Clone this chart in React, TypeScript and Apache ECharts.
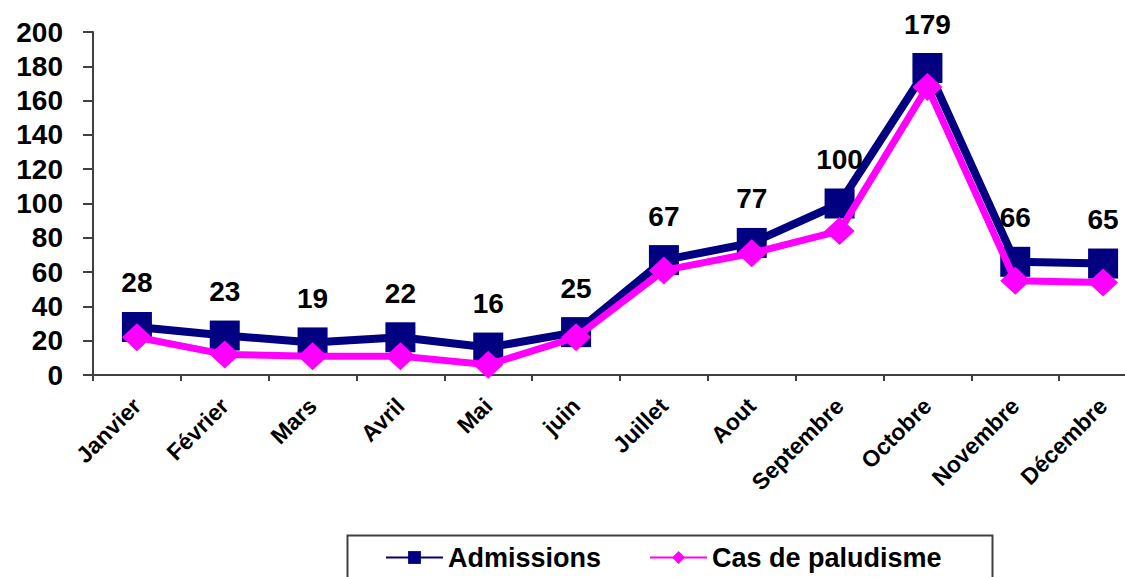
import React, { useEffect, useRef } from "react";
import * as echarts from "echarts";

// Monthly counts
const months = [
  "Janvier", "Février", "Mars", "Avril", "Mai", "juin",
  "Juillet", "Aout", "Septembre", "Octobre", "Novembre", "Décembre",
];
const admissions = [28, 23, 19, 22, 16, 25, 67, 77, 100, 179, 66, 65];
const casPaludisme = [22, 12, 11, 11, 6, 22, 61, 71, 84, 168, 55, 54];

const FONT = "'Liberation Sans', Arial, Helvetica, sans-serif";
const NAVY = "#000080";
const MAGENTA = "#FF00FF";
const AXIS = "#404040";

export default function App() {
  const ref = useRef<HTMLDivElement>(null);

  useEffect(() => {
    if (!ref.current) return;
    const chart = echarts.init(ref.current, null, { renderer: "svg" });
    chart.setOption({
      animation: false,
      backgroundColor: "#ffffff",
      textStyle: { fontFamily: FONT },
      grid: {
        left: 93,
        top: 32,
        bottom: 202,
        right: -22,
        containLabel: false,
        outerBoundsMode: "none",
      },
      xAxis: {
        type: "category",
        data: months,
        boundaryGap: true,
        axisLine: { show: true, lineStyle: { color: AXIS, width: 2 } },
        axisTick: { show: true, length: 6, lineStyle: { color: AXIS, width: 2 } },
        axisLabel: {
          interval: 0,
          rotate: 45,
          margin: 27,
          fontFamily: FONT,
          fontWeight: "bold",
          fontSize: 23,
          color: "#000000",
        },
        splitLine: { show: false },
      },
      yAxis: {
        type: "value",
        min: 0,
        max: 200,
        interval: 20,
        axisLine: { show: true, lineStyle: { color: AXIS, width: 2 } },
        axisTick: { show: true, length: 10, lineStyle: { color: AXIS, width: 2 } },
        axisLabel: {
          margin: 30,
          fontFamily: FONT,
          fontWeight: "bold",
          fontSize: 28,
          color: "#000000",
        },
        splitLine: { show: false },
      },
      legend: {
        left: 385,
        top: 544,
        padding: 0,
        itemWidth: 57,
        itemHeight: 16,
        itemGap: 48,
        textStyle: {
          fontFamily: FONT,
          fontWeight: "bold",
          fontSize: 27,
          color: "#000000",
        },
        data: ["Admissions", "Cas de paludisme"],
      },
      graphic: [
        {
          type: "rect",
          left: 345,
          top: 533,
          shape: { width: 645, height: 80 },
          style: { fill: "none", stroke: AXIS, lineWidth: 2 },
          z: -1,
        },
      ],
      series: [
        {
          name: "Admissions",
          type: "line",
          data: admissions,
          symbol: "rect",
          symbolSize: 30,
          lineStyle: { color: NAVY, width: 8 },
          itemStyle: { color: NAVY },
          label: {
            show: true,
            position: "top",
            distance: 15,
            fontFamily: FONT,
            fontWeight: "bold",
            fontSize: 28,
            color: "#000000",
          },
          z: 2,
        },
        {
          name: "Cas de paludisme",
          type: "line",
          data: casPaludisme,
          symbol: "diamond",
          symbolSize: [30, 28],
          lineStyle: { color: MAGENTA, width: 7 },
          itemStyle: { color: MAGENTA },
          z: 3,
        },
      ],
    });
    return () => chart.dispose();
  }, []);

  return (
    <div
      ref={ref}
      style={{ position: "absolute", left: 0, top: 0, width: 1125, height: 577, background: "#fff" }}
    />
  );
}
